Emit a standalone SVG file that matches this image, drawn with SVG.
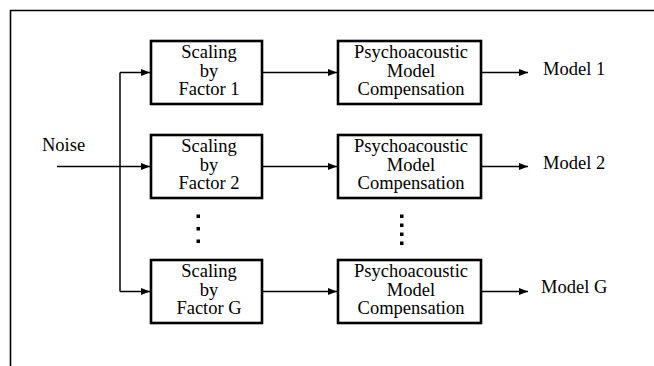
<svg xmlns="http://www.w3.org/2000/svg" width="654" height="366" viewBox="0 0 654 366">
  <defs>
    <marker id="arrow" markerUnits="userSpaceOnUse" markerWidth="9" markerHeight="7" refX="9" refY="3.5" orient="auto">
      <path d="M0,0 L9,3.5 L0,7 z" fill="#000"/>
    </marker>
    <style>
      .box { fill: #fff; stroke: #000; stroke-width: 2.6; }
      .wire { fill: none; stroke: #000; stroke-width: 1.5; }
      .frame { fill: none; stroke: #000; stroke-width: 1.6; }
      text { font-family: 'Liberation Serif', 'Times New Roman', Tinos, 'DejaVu Serif', serif; font-size: 18.5px; fill: #000; }
      .c { text-anchor: middle; }
      .dot { fill: #000; }
    </style>
  </defs>

  <rect width="654" height="366" fill="#fff"/>
  <!-- outer frame (open to the right and bottom) -->
  <path class="frame" d="M10.5,366 V10.5 H654"/>

  <!-- connectors -->
  <g id="connectors">
    <line class="wire" x1="57" y1="166.5" x2="150" y2="166.5" marker-end="url(#arrow)"/>
    <path class="wire" d="M120,72.5 V291.5"/>
    <path class="wire" d="M120,72.5 H150" marker-end="url(#arrow)"/>
    <path class="wire" d="M120,291.5 H150" marker-end="url(#arrow)"/>
    <line class="wire" x1="262" y1="72.5" x2="337" y2="72.5" marker-end="url(#arrow)"/>
    <line class="wire" x1="262" y1="166.5" x2="337" y2="166.5" marker-end="url(#arrow)"/>
    <line class="wire" x1="262" y1="291.5" x2="337" y2="291.5" marker-end="url(#arrow)"/>
    <line class="wire" x1="481" y1="72.5" x2="528" y2="72.5" marker-end="url(#arrow)"/>
    <line class="wire" x1="481" y1="166.5" x2="528" y2="166.5" marker-end="url(#arrow)"/>
    <line class="wire" x1="481" y1="291.5" x2="528" y2="291.5" marker-end="url(#arrow)"/>
  </g>

  <!-- input label -->
  <g id="noise">
    <text x="42" y="151" font-family="Liberation Serif, serif">Noise</text>
  </g>

  <!-- row 1 -->
  <g id="scale1">
    <rect class="box" x="151" y="41" width="111" height="63"/>
    <text class="c" x="209" y="58">Scaling</text>
    <text class="c" x="209" y="76.5">by</text>
    <text class="c" x="209" y="95">Factor 1</text>
  </g>
  <g id="psy1">
    <rect class="box" x="338" y="41" width="143" height="63"/>
    <text class="c" x="411" y="58">Psychoacoustic</text>
    <text class="c" x="411" y="76.5">Model</text>
    <text class="c" x="411" y="95">Compensation</text>
  </g>
  <g id="out1"><text x="543" y="75">Model 1</text></g>

  <!-- row 2 -->
  <g id="scale2">
    <rect class="box" x="151" y="135" width="111" height="63"/>
    <text class="c" x="209" y="152">Scaling</text>
    <text class="c" x="209" y="170.5">by</text>
    <text class="c" x="209" y="189">Factor 2</text>
  </g>
  <g id="psy2">
    <rect class="box" x="338" y="135" width="143" height="63"/>
    <text class="c" x="411" y="152">Psychoacoustic</text>
    <text class="c" x="411" y="170.5">Model</text>
    <text class="c" x="411" y="189">Compensation</text>
  </g>
  <g id="out2"><text x="543" y="169">Model 2</text></g>

  <!-- continuation dots -->
  <g id="dots">
    <rect class="dot" x="196.5" y="214.5" width="3.5" height="3.5"/>
    <rect class="dot" x="196.5" y="227" width="3.5" height="3.5"/>
    <rect class="dot" x="196.5" y="239.5" width="3.5" height="3.5"/>
    <rect class="dot" x="400" y="214.5" width="3.5" height="3.5"/>
    <rect class="dot" x="400" y="223.5" width="3.5" height="3.5"/>
    <rect class="dot" x="400" y="232.5" width="3.5" height="3.5"/>
    <rect class="dot" x="400" y="241.5" width="3.5" height="3.5"/>
  </g>

  <!-- row G -->
  <g id="scaleG">
    <rect class="box" x="151" y="260" width="111" height="63"/>
    <text class="c" x="209" y="277">Scaling</text>
    <text class="c" x="209" y="295.5">by</text>
    <text class="c" x="209" y="314">Factor G</text>
  </g>
  <g id="psyG">
    <rect class="box" x="338" y="260" width="143" height="63"/>
    <text class="c" x="411" y="277">Psychoacoustic</text>
    <text class="c" x="411" y="295.5">Model</text>
    <text class="c" x="411" y="314">Compensation</text>
  </g>
  <g id="outG"><text x="541" y="293">Model G</text></g>
</svg>
